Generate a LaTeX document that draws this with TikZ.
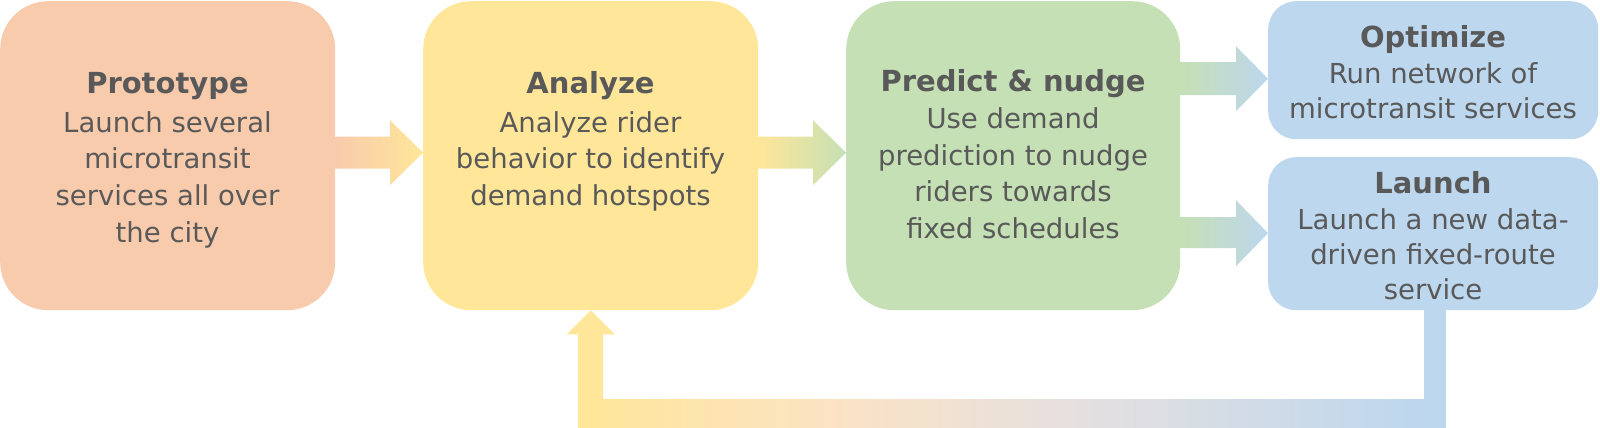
\documentclass[tikz,border=0pt]{standalone}
\usepackage{fontspec}
\setmainfont{DejaVu Sans}
\usetikzlibrary{calc}
\definecolor{cpeach}{HTML}{F8CBAD}
\definecolor{cyel}{HTML}{FFE699}
\definecolor{cgreen}{HTML}{C5E0B4}
\definecolor{cblue}{HTML}{BDD7EE}
\definecolor{ctext}{HTML}{595959}
\definecolor{cmid}{HTML}{E6E0DF}
\definecolor{cpeachl}{HTML}{FBE3C4}
\pgfdeclarehorizontalshading{fbshade}{100bp}{color(0bp)=(cyel); color(25bp)=(cyel); color(40bp)=(cpeachl); color(54bp)=(cmid); color(75bp)=(cblue); color(100bp)=(cblue)}
\newcommand\mystack[1]{\vtop{\halign{\hfil##\hfil\cr#1\crcr}}}
\tikzset{
  bigbox/.style={rectangle, rounded corners=48pt, inner sep=0pt, minimum width=335pt, minimum height=309pt, anchor=north west},
  smallbox/.style={rectangle, rounded corners=28pt, inner sep=0pt, minimum width=330pt, anchor=north west, fill=cblue},
  ttl/.style={font=\fontsize{29}{35}\selectfont\bfseries, text=ctext, anchor=base, inner sep=0pt},
  bdy/.style={font=\fontsize{27.5}{36.7}\selectfont, text=ctext, anchor=base, inner sep=0pt},
  bdys/.style={font=\fontsize{27.5}{35}\selectfont, text=ctext, anchor=base, inner sep=0pt},
}
\begin{document}
\begin{tikzpicture}[x=1pt,y=-1pt]
\useasboundingbox (0,0) rectangle (1600,428);
% boxes
\node[bigbox, fill=cpeach] (p) at (0,1) {};
\node[bigbox, fill=cyel] (a) at (423,1) {};
\node[bigbox, fill=cgreen, minimum width=334pt] (n) at (846,1) {};
\node[smallbox, minimum height=138pt] (o) at (1268,1) {};
\node[smallbox, minimum height=153pt] (l) at (1268,157) {};
% texts
\node[ttl] (pt) at (167.5,93) {Prototype};
\node[bdy] (pb) at (167.5,132) {\mystack{Launch several\cr microtransit\cr services all over\cr the city}};
\node[ttl] (at) at (590.5,93) {Analyze};
\node[bdy] (ab) at (590.5,132) {\mystack{Analyze rider\cr behavior to identify\cr demand hotspots}};
\node[ttl] (nt) at (1013,92) {Predict \& nudge};
\node[bdy] (nb) at (1013,128.5) {\mystack{Use demand\cr prediction to nudge\cr riders towards\cr fixed schedules}};
\node[ttl] (ot) at (1433,48) {Optimize};
\node[bdys] (ob) at (1433,83) {\mystack{Run network of\cr microtransit services}};
\node[ttl] (lt) at (1433,193) {Launch};
\node[bdys] (lb) at (1433,229) {\mystack{Launch a new data-\cr driven fixed-route\cr service}};
% arrow p -> a
\path[left color=cpeach, right color=cyel]
  ($(p.east)+(0,-19)$) -- ($(a.west)+(-33,-19)$) -- ($(a.west)+(-33,-35.5)$)
  -- ($(a.west)+(0,-3)$) -- ($(a.west)+(-33,29.5)$) -- ($(a.west)+(-33,13)$)
  -- ($(p.east)+(0,13)$) -- cycle;
% arrow a -> n
\path[left color=cyel, right color=cgreen]
  ($(a.east)+(0,-19)$) -- ($(n.west)+(-33,-19)$) -- ($(n.west)+(-33,-35.5)$)
  -- ($(n.west)+(0,-3)$) -- ($(n.west)+(-33,29.5)$) -- ($(n.west)+(-33,13)$)
  -- ($(a.east)+(0,13)$) -- cycle;
% arrow n -> o
\path[left color=cgreen, right color=cblue]
  ($(n.east|-o.west)+(0,-8)$) -- ($(o.west)+(-32,-8)$) -- ($(o.west)+(-32,-24)$)
  -- ($(o.west)+(0,8.5)$) -- ($(o.west)+(-32,41)$) -- ($(o.west)+(-32,25)$)
  -- ($(n.east|-o.west)+(0,25)$) -- cycle;
% arrow n -> l
\path[left color=cgreen, right color=cblue]
  ($(n.east|-l.west)+(0,-16.5)$) -- ($(l.west)+(-32,-16.5)$) -- ($(l.west)+(-32,-33.5)$)
  -- ($(l.west)+(0,-0.5)$) -- ($(l.west)+(-32,32.5)$) -- ($(l.west)+(-32,14.5)$)
  -- ($(n.east|-l.west)+(0,14.5)$) -- cycle;
% feedback l -> a
\fill[cblue] ($(l.south)+(-9,0)$) rectangle ($(l.south)+(13,118)$);
\path[shading=fbshade] ($(a.south)+(-12.5,89)$) rectangle ($(l.south)+(-9,118)$);
\fill[cyel] ($(a.south)+(-12.5,118)$) -- ($(a.south)+(-12.5,24)$) -- ($(a.south)+(-24,24)$)
  -- (a.south) -- ($(a.south)+(24,24)$) -- ($(a.south)+(12.5,24)$)
  -- ($(a.south)+(12.5,118)$) -- cycle;
\end{tikzpicture}
\end{document}
